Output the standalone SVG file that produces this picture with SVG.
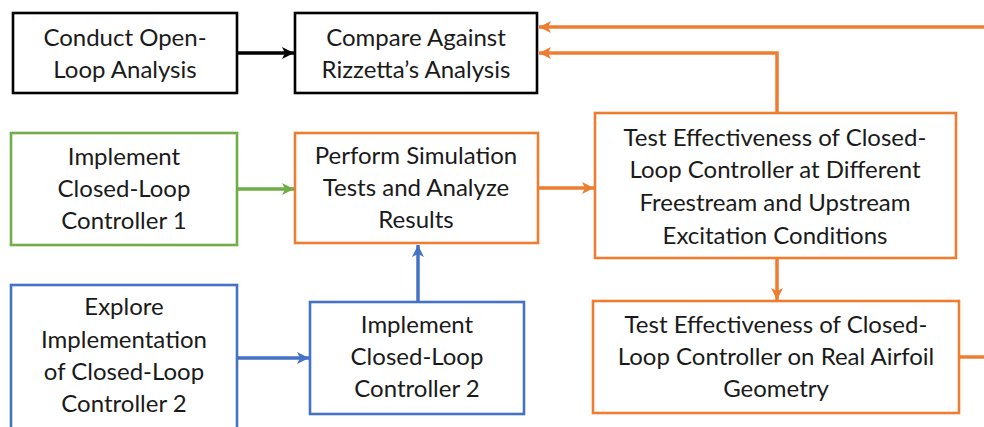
<svg xmlns="http://www.w3.org/2000/svg" width="984" height="427" viewBox="0 0 984 427">
<defs>
<style>
.box{fill:#fff;stroke-width:2.6}
.k{stroke:#000}
.o{stroke:#ED7D31}
.g{stroke:#70AD47}
.b{stroke:#4472C4}
.t{font-family:Lato,"Liberation Sans",sans-serif;font-size:24px;fill:#1a1a1a;text-anchor:middle}
.c{fill:none;stroke-width:3.5}
</style>
<marker id="ak" markerUnits="userSpaceOnUse" markerWidth="14" markerHeight="14" refX="12" refY="7" orient="auto"><path d="M0,1 L12,7 L0,13 L3,7 Z" fill="#000"/></marker>
<marker id="ao" markerUnits="userSpaceOnUse" markerWidth="14" markerHeight="14" refX="12" refY="7" orient="auto"><path d="M0,1 L12,7 L0,13 L3,7 Z" fill="#ED7D31"/></marker>
<marker id="ag" markerUnits="userSpaceOnUse" markerWidth="14" markerHeight="14" refX="12" refY="7" orient="auto"><path d="M0,1 L12,7 L0,13 L3,7 Z" fill="#70AD47"/></marker>
<marker id="ab" markerUnits="userSpaceOnUse" markerWidth="14" markerHeight="14" refX="12" refY="7" orient="auto"><path d="M0,1 L12,7 L0,13 L3,7 Z" fill="#4472C4"/></marker>
</defs>
<rect width="984" height="427" fill="#fff"/>
<g id="connectors">
<path class="c" stroke="#000" d="M237,53 H294" marker-end="url(#ak)"/>
<path class="c" stroke="#ED7D31" d="M984,27 H539" marker-end="url(#ao)"/>
<path class="c" stroke="#ED7D31" d="M777,113 V53 H539" marker-end="url(#ao)"/>
<path class="c" stroke="#70AD47" d="M237,189 H294" marker-end="url(#ag)"/>
<path class="c" stroke="#ED7D31" d="M538,188 H594" marker-end="url(#ao)"/>
<path class="c" stroke="#4472C4" d="M418,302 V245" marker-end="url(#ab)"/>
<path class="c" stroke="#4472C4" d="M237,358 H309" marker-end="url(#ab)"/>
<path class="c" stroke="#ED7D31" d="M777,259 V300" marker-end="url(#ao)"/>
<path class="c" stroke="#ED7D31" d="M959,357 H984"/>
</g>
<g id="n1"><rect class="box k" x="13" y="13" width="224" height="80"/>
<text class="t" x="125" y="46">Conduct Open-</text><text class="t" x="125" y="78">Loop Analysis</text></g>
<g id="n2"><rect class="box k" x="295" y="13" width="242" height="80"/>
<text class="t" x="416" y="46">Compare Against</text><text class="t" x="416" y="78">Rizzetta’s Analysis</text></g>
<g id="n3"><rect class="box g" x="11" y="133" width="226" height="112"/>
<text class="t" x="124" y="165">Implement</text><text class="t" x="124" y="197">Closed-Loop</text><text class="t" x="124" y="229">Controller 1</text></g>
<g id="n4"><rect class="box o" x="295" y="133" width="243" height="110"/>
<text class="t" x="416" y="164">Perform Simulation</text><text class="t" x="416" y="196">Tests and Analyze</text><text class="t" x="416" y="228">Results</text></g>
<g id="n5"><rect class="box o" x="595" y="113" width="361" height="145"/>
<text class="t" x="775" y="146">Test Effectiveness of Closed-</text><text class="t" x="775" y="178">Loop Controller at Different</text><text class="t" x="775" y="211">Freestream and Upstream</text><text class="t" x="775" y="244">Excitation Conditions</text></g>
<g id="n6"><rect class="box o" x="593" y="301" width="366" height="112"/>
<text class="t" x="776" y="333">Test Effectiveness of Closed-</text><text class="t" x="776" y="365">Loop Controller on Real Airfoil</text><text class="t" x="776" y="397">Geometry</text></g>
<g id="n7"><rect class="box b" x="11" y="285" width="226" height="160"/>
<text class="t" x="124" y="315">Explore</text><text class="t" x="124" y="348">Implementation</text><text class="t" x="124" y="380">of Closed-Loop</text><text class="t" x="124" y="412">Controller 2</text></g>
<g id="n8"><rect class="box b" x="310" y="302" width="214" height="112"/>
<text class="t" x="417" y="333">Implement</text><text class="t" x="417" y="365">Closed-Loop</text><text class="t" x="417" y="397">Controller 2</text></g>
</svg>
